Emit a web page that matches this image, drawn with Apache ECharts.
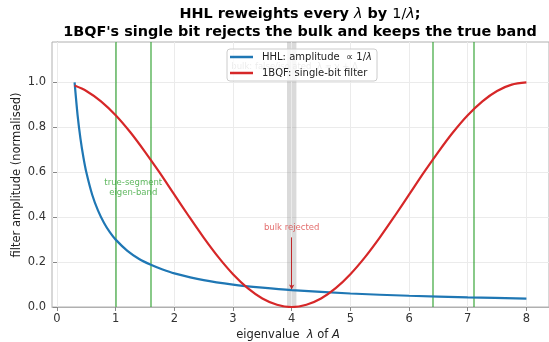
<!DOCTYPE html>
<html>
<head>
<meta charset="utf-8">
<script src="https://cdn.jsdelivr.net/npm/echarts@6/dist/echarts.min.js"></script>
<style>html,body{margin:0;padding:0;background:#fff}#c{width:549px;height:342px}</style>
</head>
<body>
<div id="c"></div>
<script>
// ---- data ----
const lambdaHHL = [0.3,0.35,0.4,0.45,0.5,0.6,0.7,0.8,0.9,1.0,1.2,1.4,1.6,1.8,2.0,2.5,3.0,3.5,4.0,5.0,6.0,7.0,8.0];
const ampHHL    = [1.0,0.857,0.75,0.667,0.6,0.5,0.429,0.375,0.333,0.3,0.25,0.214,0.188,0.167,0.15,0.12,0.1,0.086,0.075,0.06,0.05,0.043,0.0375];
const lambdaBQF = [0.3,0.5,0.75,1.0,1.25,1.5,1.75,2.0,2.25,2.5,2.75,3.0,3.25,3.5,3.75,4.0,4.25,4.5,4.75,5.0,5.25,5.5,5.75,6.0,6.25,6.5,6.75,7.0,7.25,7.5,7.75,8.0];
const ampBQF    = [0.986,0.962,0.916,0.854,0.778,0.691,0.598,0.5,0.403,0.309,0.222,0.146,0.084,0.038,0.010,0.0,0.010,0.038,0.084,0.146,0.222,0.309,0.403,0.5,0.598,0.691,0.778,0.854,0.916,0.962,0.990,1.0];
const trueBandLines = [1.0, 1.6, 6.4, 7.1];
const bulkBand = [3.92, 4.08];
const bulkLambda = 4.0;
const xTicks = [0,1,2,3,4,5,6,7,8];
const yTicks = [0.0,0.2,0.4,0.6,0.8,1.0];
const seriesNames = ['HHL: amplitude  \u221d 1/\u03bb', '1BQF: single-bit filter'];

const F = 'DejaVu Sans';
const chart = echarts.init(document.getElementById('c'), null, {renderer:'canvas'});
const zip = (a,b) => a.map((v,i)=>[v,b[i]]);

chart.setOption({
  animation:false,
  textStyle:{fontFamily:F},
  grid:{left:52, right:-1, top:42, bottom:35, show:true, borderColor:'#b0b0b0', borderWidth:1, containLabel:false},
  xAxis:{type:'value', min:-0.085, max:8.385,
    axisLine:{show:true, onZero:false, lineStyle:{color:'#b0b0b0', width:1}},
    axisTick:{show:true, customValues:xTicks, length:4, lineStyle:{color:'#888'}},
    axisLabel:{customValues:xTicks, fontSize:11.5, color:'#333', margin:6, fontFamily:F},
    splitLine:{show:false}},
  yAxis:{type:'value', min:0, max:1.18, interval:0.2,
    axisLine:{show:true, lineStyle:{color:'#b0b0b0', width:1}},
    axisTick:{show:true, customValues:yTicks, length:4, lineStyle:{color:'#888'}},
    axisLabel:{customValues:yTicks, fontSize:11.5, color:'#333', margin:6, fontFamily:F, formatter:v=>v.toFixed(1)},
    splitLine:{show:true, lineStyle:{color:'#ebebeb', width:1}}},
  legend:{
    data:seriesNames, orient:'vertical', left:227, top:49, z:10,
    icon:'rect', itemWidth:23, itemHeight:2.5, itemGap:6,
    padding:[3,5,3,3], backgroundColor:'rgba(255,255,255,0.8)', borderColor:'#cccccc', borderWidth:1, borderRadius:3,
    textStyle:{fontSize:10, color:'#222', fontFamily:F, padding:[0,0,0,4],
      rich:{n:{fontSize:10, color:'#222', fontFamily:F}, i:{fontSize:10, color:'#222', fontFamily:F, fontStyle:'italic'}}},
    formatter: n => n===seriesNames[0] ? '{n|HHL: amplitude  \u221d 1/}{i|\u03bb}' : '{n|'+n+'}'
  },
  series:[
    { // background vertical gridlines + bulk band
      type:'line', data:[], z:1, silent:true,
      markLine:{silent:true, symbol:['none','none'], label:{show:false},
        lineStyle:{color:'#ebebeb', width:1, type:'solid'},
        data:xTicks.map(v=>({xAxis:v}))},
      markArea:{silent:true, itemStyle:{color:'rgba(150,150,150,0.35)'},
        data:[[{xAxis:bulkBand[0]},{xAxis:bulkBand[1]}]]}
    },
    { // true-band green lines
      type:'line', data:[], z:2, silent:true,
      markLine:{silent:true, symbol:['none','none'], label:{show:false},
        lineStyle:{color:'#2ca02c', opacity:0.7, width:1.6, type:'solid'},
        data:trueBandLines.map(v=>({xAxis:v}))}
    },
    { // faint text hidden behind the legend
      type:'scatter', data:[[2.97,1.07]], symbolSize:0, z:1, silent:true,
      label:{show:true, position:'right', distance:0, formatter:'bulk: false/isolated  \u03bb \u2248 \u03b3 + \u0394', fontSize:8.5, color:'#8a8a8a', fontFamily:F}
    },
    {
      name:seriesNames[0], type:'line', data:zip(lambdaHHL,ampHHL), showSymbol:false, smooth:0.25, z:5,
      lineStyle:{color:'#1f77b4', width:2.2}, itemStyle:{color:'#1f77b4'}
    },
    {
      name:seriesNames[1], type:'line', data:zip(lambdaBQF,ampBQF), showSymbol:false, smooth:0.3, z:6,
      lineStyle:{color:'#d62728', width:2.2}, itemStyle:{color:'#d62728'}
    },
    { // bulk rejected arrow
      type:'line', data:[], z:7, silent:true,
      markLine:{silent:true, symbol:['none','arrow'], symbolSize:[4,5], label:{show:false},
        lineStyle:{color:'#c0282a', width:1, type:'solid'},
        data:[[{coord:[bulkLambda,0.31]},{coord:[bulkLambda,0.078]}]]}
    },
    { // annotation texts
      type:'scatter', symbolSize:0, z:8, silent:true,
      data:[
        {value:[bulkLambda,0.352], label:{formatter:'bulk rejected', color:'rgba(214,39,40,0.85)'}},
        {value:[1.3,0.533], label:{formatter:'true-segment\neigen-band', color:'#3aa63a', lineHeight:10}}
      ],
      label:{show:true, position:'inside', fontSize:8.5, fontFamily:F, align:'center'}
    }
  ],
  graphic:[
    {type:'text', x:300, y:14, z:10, style:{
      text:'{b|HHL reweights every }{m|\u03bb}{b| by }{n|1/}{m|\u03bb}{b|;}', textAlign:'center', textVerticalAlign:'middle',
      rich:{b:{fontFamily:F, fontSize:14.4, fontWeight:'bold', fill:'#000'}, m:{fontFamily:F, fontSize:14.4, fontStyle:'italic', fill:'#000'}, n:{fontFamily:F, fontSize:14.4, fill:'#000'}}}},
    {type:'text', x:300, y:32, z:10, style:{
      text:"1BQF's single bit rejects the bulk and keeps the true band", textAlign:'center', textVerticalAlign:'middle',
      font:'bold 14.4px "DejaVu Sans"', fill:'#000'}},
    {type:'text', x:288, y:335, z:10, style:{
      text:'{n|eigenvalue  }{i|\u03bb}{n| of }{i|A}', textAlign:'center', textVerticalAlign:'middle',
      rich:{n:{fontFamily:F, fontSize:11.5, fill:'#222'}, i:{fontFamily:F, fontSize:11.5, fontStyle:'italic', fill:'#222'}}}},
    {type:'text', x:17, y:175, rotation:Math.PI/2, z:10, style:{
      text:'filter amplitude (normalised)', textAlign:'center', textVerticalAlign:'middle',
      font:'11.5px "DejaVu Sans"', fill:'#222'}}
  ]
});
</script>
</body>
</html>
